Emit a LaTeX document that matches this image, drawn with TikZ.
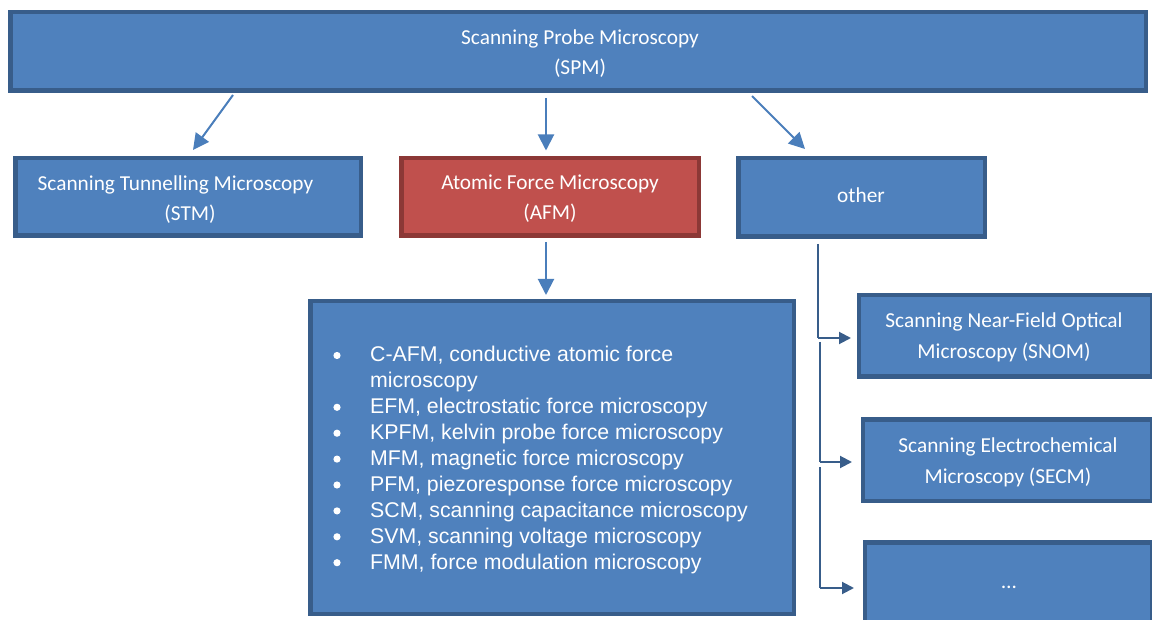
\documentclass[tikz,border=0pt]{standalone}
\usepackage{fontspec}
\newfontfamily\calfont{Carlito}
\newfontfamily\arialfont{Liberation Sans}
\usetikzlibrary{arrows.meta}
\definecolor{bfill}{HTML}{4F81BD}
\definecolor{bline}{HTML}{385D8A}
\definecolor{rfill}{HTML}{C0504D}
\definecolor{rline}{HTML}{8C3836}
\definecolor{arrcol}{HTML}{4A7EBB}
\tikzset{
  box/.style={draw=bline, fill=bfill, line width=4.5pt, rectangle, inner sep=0pt},
  redbox/.style={draw=rline, fill=rfill, line width=4.5pt, rectangle, inner sep=0pt},
  lbl/.style={anchor=base, text=white, inner sep=0pt, font=\calfont\fontsize{21.3}{30}\selectfont},
  itm/.style={anchor=base west, text=white, inner sep=0pt, font=\arialfont\fontsize{21.3}{26}\selectfont},
  bigarr/.style={draw=arrcol, line width=2pt, -{Triangle[length=16pt,width=16pt]}},
  treearr/.style={draw=bline, line width=2pt, -{Triangle[length=12pt,width=12pt]}},
  treeline/.style={draw=bline, line width=2pt}
}
\begin{document}
\begin{tikzpicture}[x=1pt,y=-1pt]
\useasboundingbox (0,0) rectangle (1152,620);
\begin{scope}
\clip (0,0) rectangle (1152,620);
% boxes
\node[box, minimum width=1135.5pt, minimum height=78.5pt] (spm) at (578,51.5) {};
\node[box, minimum width=345.5pt, minimum height=77.5pt] (stm) at (188,197) {};
\node[redbox, minimum width=297.5pt, minimum height=77.5pt] (afm) at (550,197) {};
\node[box, minimum width=246.5pt, minimum height=78.5pt] (oth) at (861.5,197.5) {};
\node[box, minimum width=483.5pt, minimum height=312.5pt] (list) at (552,457.5) {};
\node[box, minimum width=292.75pt, minimum height=81.5pt] (snom) at (1005.6,336) {};
\node[box, minimum width=288.75pt, minimum height=81.5pt] (secm) at (1007.6,460) {};
\node[box, minimum width=286.75pt, minimum height=85.5pt] (dots) at (1008.6,585) {};

% labels
\node[lbl] (spm1) at (580,45) {Scanning Probe Microscopy};
\node[lbl] (spm2) at (580,75) {(SPM)};
\node[lbl] (stm1) at (175.5,191) {Scanning Tunnelling Microscopy};
\node[lbl] (stm2) at (190,221) {(STM)};
\node[lbl] (afm1) at (550,190) {Atomic Force Microscopy};
\node[lbl] (afm2) at (550,220) {(AFM)};
\node[lbl] (oth1) at (861,203) {other};
\node[lbl] (snom1) at (1004,328) {Scanning Near-Field Optical};
\node[lbl] (snom2) at (1004,359) {Microscopy (SNOM)};
\node[lbl] (secm1) at (1008,453) {Scanning Electrochemical};
\node[lbl] (secm2) at (1008,483) {Microscopy (SECM)};
\node[lbl] (dots1) at (1009,588) {\dots};

% list
\node[itm] (l1) at (370,362.0) {C-AFM, conductive atomic force};
\node[itm] (l2) at (370,387.9) {microscopy};
\node[itm] (l3) at (370,413.8) {EFM, electrostatic force microscopy};
\node[itm] (l4) at (370,439.7) {KPFM, kelvin probe force microscopy};
\node[itm] (l5) at (370,465.6) {MFM, magnetic force microscopy};
\node[itm] (l6) at (370,491.5) {PFM, piezoresponse force microscopy};
\node[itm] (l7) at (370,517.4) {SCM, scanning capacitance microscopy};
\node[itm] (l8) at (370,543.3) {SVM, scanning voltage microscopy};
\node[itm] (l9) at (370,569.2) {FMM, force modulation microscopy};
\foreach \yy in {362.0,413.8,439.7,465.6,491.5,517.4,543.3,569.2}
  \fill[white] (337,\yy-6.5) circle (3.6pt);

% arrows from SPM
\coordinate (a1s) at (233,95);
\coordinate (a1e) at (193,150);
\draw[bigarr] (a1s) -- (a1e);
\coordinate (a2s) at (546,98);
\coordinate (a2e) at (546,150.5);
\draw[bigarr] (a2s) -- (a2e);
\coordinate (a3s) at (752,96);
\coordinate (a3e) at (805,149);
\draw[bigarr] (a3s) -- (a3e);
% AFM to list
\coordinate (a4s) at (546,242);
\coordinate (a4e) at (546,295);
\draw[bigarr] (a4s) -- (a4e);

% tree from other
\coordinate (t0) at (818,244);
\coordinate (t1) at (818,338);
\coordinate (t2) at (819.5,462);
\coordinate (t3) at (819.5,588);
\draw[treeline] (t0) -- (t1);
\draw[treearr] (818,338) -- (851,338);
\draw[treeline] (819.5,342) -- (t2);
\draw[treearr] (819.5,462) -- (852,462);
\draw[treeline] (819.5,467) -- (t3);
\draw[treearr] (819.5,588) -- (854,588);
\end{scope}
\end{tikzpicture}
\end{document}
